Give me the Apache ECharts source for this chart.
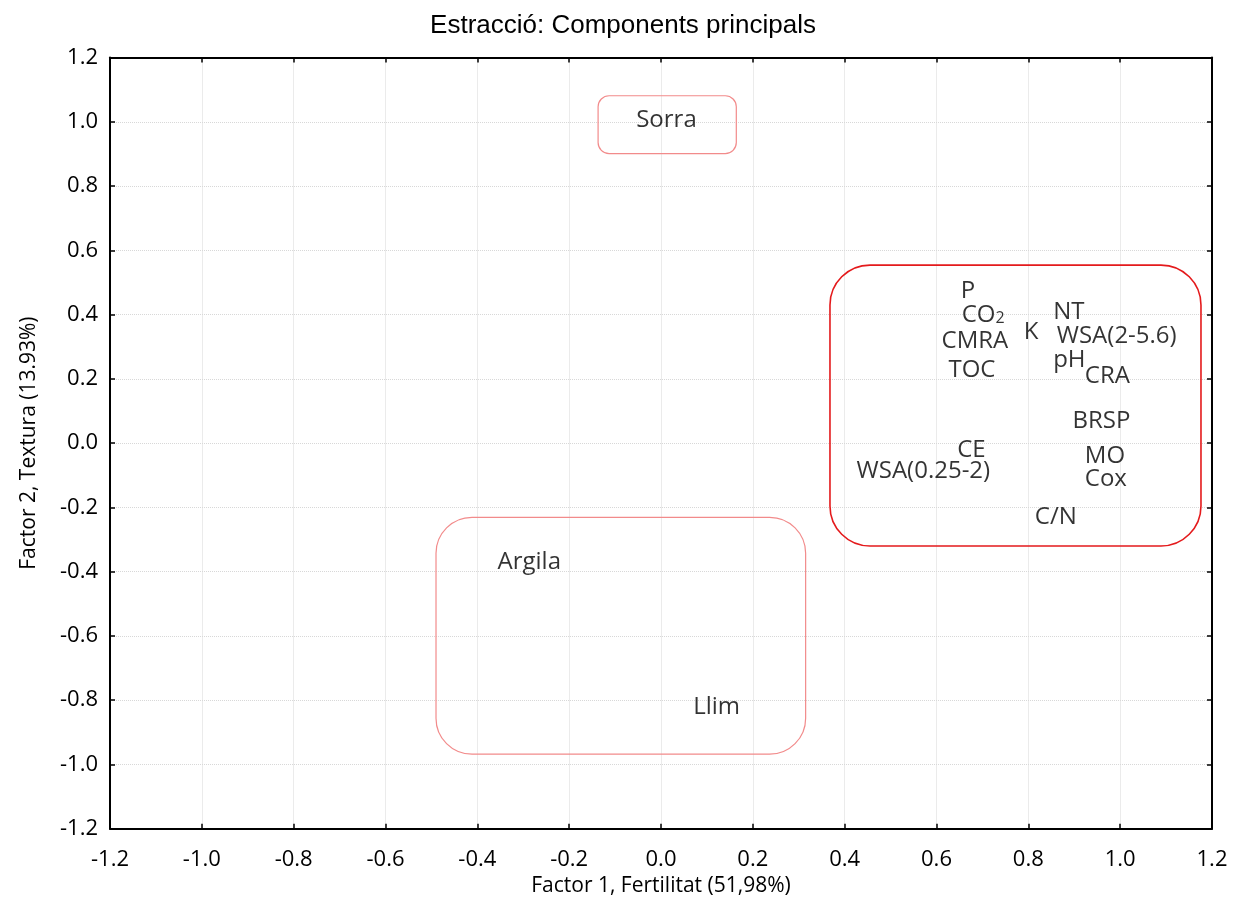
<!DOCTYPE html>
<html>
<head>
<meta charset="utf-8">
<script src="https://cdn.jsdelivr.net/npm/echarts@6/dist/echarts.min.js"></script>
<style>
  html, body { margin: 0; padding: 0; background: #fff; }
  #main { width: 1246px; height: 923px; }
</style>
</head>
<body>
<div id="main"></div>
<script>
// loadings (label anchor = left edge / vertical middle of the text)
const varNames = ['P', 'CO2', 'CMRA', 'TOC', 'K', 'NT', 'WSA(2-5.6)', 'pH', 'CRA', 'BRSP',
  'CE', 'WSA(0.25-2)', 'MO', 'Cox', 'C/N', 'Argila', 'Llim', 'Sorra']
const factor1 = [0.653, 0.655, 0.611, 0.626, 0.790, 0.854, 0.862, 0.854, 0.923, 0.896,
  0.645, 0.426, 0.923, 0.923, 0.814, -0.356, 0.070, -0.054]
const factor2 = [0.474, 0.409, 0.316, 0.228, 0.345, 0.406, 0.333, 0.259, 0.207, 0.069,
  -0.021, -0.086, -0.042, -0.112, -0.231, -0.369, -0.822, 1.006]

// grouping boxes drawn on the plot, in data units [x0, x1, y0, y1]
const boxFertilitat = [0.368, 1.176, -0.320, 0.554]
const boxArgilaLlim = [-0.490, 0.315, -0.968, -0.231]
const boxSorra = [-0.137, 0.164, 0.901, 1.081]

const axisMin = -1.2
const axisMax = 1.2
const axisStep = 0.2

const chart = echarts.init(document.getElementById('main'))

const labelFont = '"Open Sans", "DejaVu Sans", sans-serif'

const points = varNames.map((name, i) => {
  const item = { name: name, value: [factor1[i], factor2[i]] }
  if (name === 'CO2') {
    // CO with subscript 2
    item.label = {
      formatter: '{a|CO}{s|2}',
      rich: {
        a: { fontSize: 24, lineHeight: 30, verticalAlign: 'bottom', fontFamily: labelFont, color: '#000' },
        s: { fontSize: 16, lineHeight: 14, verticalAlign: 'bottom', fontFamily: labelFont, color: '#000' },
      },
    }
  }
  return item
})

const mainAxis = (extra) => Object.assign({
  type: 'value',
  min: axisMin,
  max: axisMax,
  interval: axisStep,
  axisLine: { show: true, onZero: false, lineStyle: { color: '#000', width: 2 } },
  axisTick: { show: true, inside: true, length: 5, lineStyle: { color: '#000', width: 1.5 } },
  axisLabel: {
    show: true,
    fontSize: 22,
    fontFamily: labelFont,
    color: '#000',
    formatter: (v) => v.toFixed(1),
  },
  splitLine: { show: true, lineStyle: { color: '#d8d8d8', type: 'dotted', width: 1 } },
}, extra)

const option = {
  animation: false,
  backgroundColor: '#fff',
  title: {
    text: 'Estracció: Components principals',
    left: 'center',
    top: 8,
    textStyle: { fontFamily: '"Liberation Sans", Arial, sans-serif', fontSize: 26, fontWeight: 'normal', color: '#000' },
  },
  grid: { left: 110, top: 57.5, right: 34, bottom: 94.3 },
  xAxis: [
    mainAxis({
      position: 'bottom',
      name: 'Factor 1, Fertilitat (51,98%)',
      nameLocation: 'middle',
      nameGap: 44,
      nameTextStyle: { fontSize: 21, fontFamily: labelFont, color: '#000' },
      axisLabel: Object.assign({}, mainAxis().axisLabel, { margin: 20 }),
    }),
    mainAxis({
      position: 'top',
      axisLabel: { show: false },
      splitLine: { show: false },
    }),
  ],
  yAxis: [
    mainAxis({
      position: 'left',
      name: 'Factor 2, Textura (13.93%)',
      nameLocation: 'middle',
      nameGap: 70,
      nameTextStyle: { fontSize: 21, fontFamily: labelFont, color: '#000' },
      axisLabel: Object.assign({}, mainAxis().axisLabel, { margin: 12 }),
    }),
    mainAxis({
      position: 'right',
      axisLabel: { show: false },
      splitLine: { show: false },
    }),
  ],
  series: [
    {
      type: 'scatter',
      xAxisIndex: 0,
      yAxisIndex: 0,
      symbolSize: 0,
      data: points,
      label: {
        show: true,
        position: 'right',
        distance: 0,
        formatter: '{b}',
        fontSize: 24,
        fontFamily: labelFont,
        color: '#000',
      },
      emphasis: { disabled: true },
    },
  ],
}

chart.setOption(option)

// rounded boxes, placed through the axes
const makeBox = (b, r, color, width) => {
  const p0 = chart.convertToPixel({ gridIndex: 0 }, [b[0], b[3]])
  const p1 = chart.convertToPixel({ gridIndex: 0 }, [b[1], b[2]])
  return {
    type: 'rect',
    silent: true,
    z: 10,
    shape: { x: p0[0], y: p0[1], width: p1[0] - p0[0], height: p1[1] - p0[1], r: r },
    style: { fill: 'none', stroke: color, lineWidth: width },
  }
}

chart.setOption({
  graphic: [
    makeBox(boxFertilitat, 40, '#e41a1c', 1.6),
    makeBox(boxArgilaLlim, 36, '#f28b8b', 1.2),
    makeBox(boxSorra, 11, '#f28b8b', 1.2),
  ],
})
</script>
</body>
</html>
